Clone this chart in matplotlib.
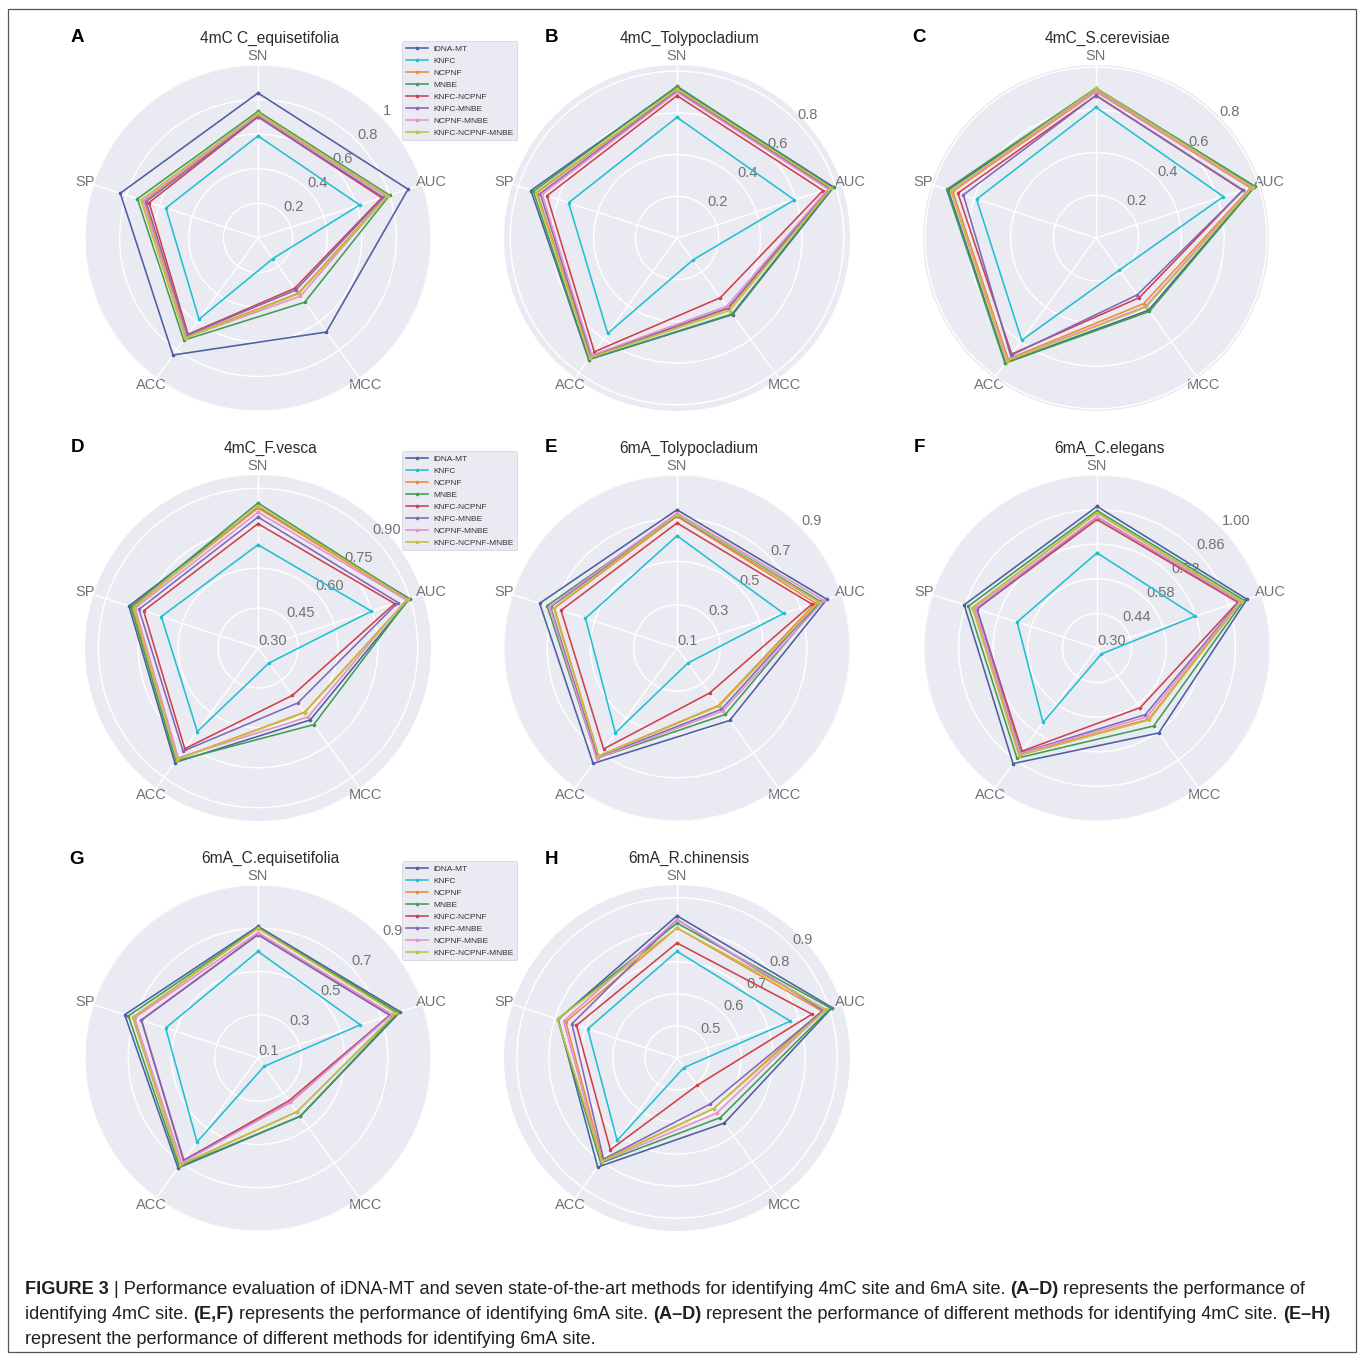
import numpy as np
import matplotlib
matplotlib.use("Agg")
import matplotlib.pyplot as plt
from matplotlib.patches import Rectangle

plt.rcParams['font.family'] = ['Liberation Sans', 'DejaVu Sans']

metrics = ["SN", "AUC", "MCC", "ACC", "SP"]
methods = ["iDNA-MT", "KNFC", "NCPNF", "MNBE", "KNFC-NCPNF",
           "KNFC-MNBE", "NCPNF-MNBE", "KNFC-NCPNF-MNBE"]
colors = ["#4C5F9F", "#22C0CF", "#F08A3A", "#3E9E55", "#D0404A",
          "#8068B8", "#E590CC", "#C4C040"]

# values per panel: rows = methods, columns = SN, AUC, MCC, ACC, SP
vals_A = [[0.838, 0.912, 0.672, 0.836, 0.837],
          [0.590, 0.618, 0.147, 0.580, 0.560],
          [0.712, 0.780, 0.395, 0.705, 0.690],
          [0.732, 0.800, 0.459, 0.730, 0.733],
          [0.700, 0.752, 0.360, 0.688, 0.662],
          [0.702, 0.762, 0.372, 0.693, 0.680],
          [0.716, 0.782, 0.416, 0.712, 0.700],
          [0.722, 0.790, 0.400, 0.715, 0.712]]
vals_B = [[0.725, 0.790, 0.454, 0.721, 0.737],
          [0.579, 0.592, 0.130, 0.566, 0.547],
          [0.712, 0.775, 0.420, 0.705, 0.705],
          [0.728, 0.785, 0.450, 0.720, 0.725],
          [0.683, 0.737, 0.354, 0.675, 0.656],
          [0.705, 0.768, 0.415, 0.700, 0.690],
          [0.700, 0.762, 0.405, 0.695, 0.680],
          [0.715, 0.778, 0.430, 0.710, 0.712]]
vals_C = [[0.695, 0.780, 0.418, 0.722, 0.728],
          [0.612, 0.627, 0.186, 0.592, 0.588],
          [0.685, 0.760, 0.380, 0.700, 0.705],
          [0.702, 0.783, 0.425, 0.725, 0.735],
          [0.667, 0.722, 0.345, 0.672, 0.680],
          [0.668, 0.725, 0.329, 0.680, 0.653],
          [0.690, 0.765, 0.395, 0.708, 0.712],
          [0.700, 0.772, 0.400, 0.712, 0.715]]
vals_D = [[0.830, 0.899, 0.634, 0.832, 0.810],
          [0.688, 0.748, 0.370, 0.688, 0.682],
          [0.826, 0.890, 0.598, 0.815, 0.796],
          [0.845, 0.895, 0.656, 0.825, 0.802],
          [0.767, 0.840, 0.520, 0.768, 0.752],
          [0.792, 0.853, 0.555, 0.779, 0.770],
          [0.810, 0.885, 0.620, 0.810, 0.785],
          [0.835, 0.892, 0.600, 0.818, 0.790]]
vals_E = [[0.739, 0.829, 0.514, 0.760, 0.768],
          [0.619, 0.618, 0.186, 0.585, 0.545],
          [0.709, 0.773, 0.428, 0.716, 0.696],
          [0.716, 0.797, 0.480, 0.730, 0.732],
          [0.678, 0.756, 0.357, 0.677, 0.664],
          [0.712, 0.790, 0.450, 0.725, 0.715],
          [0.724, 0.813, 0.460, 0.732, 0.720],
          [0.716, 0.790, 0.432, 0.718, 0.700]]
vals_F = [[0.873, 0.938, 0.725, 0.878, 0.865],
          [0.685, 0.718, 0.330, 0.672, 0.640],
          [0.847, 0.912, 0.656, 0.833, 0.828],
          [0.856, 0.925, 0.690, 0.851, 0.847],
          [0.820, 0.899, 0.598, 0.816, 0.811],
          [0.830, 0.905, 0.633, 0.825, 0.811],
          [0.832, 0.908, 0.644, 0.828, 0.820],
          [0.847, 0.915, 0.660, 0.838, 0.830]]
vals_G = [[0.709, 0.792, 0.433, 0.729, 0.748],
          [0.593, 0.597, 0.148, 0.580, 0.549],
          [0.700, 0.775, 0.407, 0.712, 0.707],
          [0.702, 0.782, 0.433, 0.720, 0.730],
          [0.672, 0.742, 0.344, 0.684, 0.667],
          [0.670, 0.740, 0.354, 0.686, 0.667],
          [0.680, 0.752, 0.354, 0.700, 0.700],
          [0.700, 0.770, 0.407, 0.710, 0.710]]
vals_H = [[0.844, 0.909, 0.651, 0.821, 0.790],
          [0.733, 0.772, 0.437, 0.718, 0.693],
          [0.806, 0.875, 0.595, 0.795, 0.765],
          [0.821, 0.904, 0.630, 0.805, 0.792],
          [0.759, 0.843, 0.506, 0.754, 0.730],
          [0.832, 0.880, 0.577, 0.790, 0.745],
          [0.832, 0.885, 0.612, 0.800, 0.772],
          [0.806, 0.890, 0.595, 0.798, 0.792]]

titles = ["4mC C_equisetifolia", "4mC_Tolypocladium", "4mC_S.cerevisiae",
          "4mC_F.vesca", "6mA_Tolypocladium", "6mA_C.elegans",
          "6mA_C.equisetifolia", "6mA_R.chinensis"]
letters = ["A", "B", "C", "D", "E", "F", "G", "H"]

rticks_A = [0.2, 0.4, 0.6, 0.8, 1.0]
rlabels_A = ["0.2", "0.4", "0.6", "0.8", "1"]
rticks_BC = [0.2, 0.4, 0.6, 0.8]
rlabels_BC = ["0.2", "0.4", "0.6", "0.8"]
rticks_D = [0.30, 0.45, 0.60, 0.75, 0.90]
rlabels_D = ["0.30", "0.45", "0.60", "0.75", "0.90"]
rticks_EG = [0.1, 0.3, 0.5, 0.7, 0.9]
rlabels_EG = ["0.1", "0.3", "0.5", "0.7", "0.9"]
rticks_F = [0.30, 0.44, 0.58, 0.72, 0.86, 1.00]
rlabels_F = ["0.30", "0.44", "0.58", "0.72", "0.86", "1.00"]
rticks_H = [0.5, 0.6, 0.7, 0.8, 0.9]
rlabels_H = ["0.5", "0.6", "0.7", "0.8", "0.9"]

panels = [
    (vals_A, rticks_A, rlabels_A, (0.0, 1.0)),
    (vals_B, rticks_BC, rlabels_BC, (0.0, 0.83)),
    (vals_C, rticks_BC, rlabels_BC, (0.0, 0.81)),
    (vals_D, rticks_D, rlabels_D, (0.30, 0.95)),
    (vals_E, rticks_EG, rlabels_EG, (0.1, 0.9)),
    (vals_F, rticks_F, rlabels_F, (0.30, 1.0)),
    (vals_G, rticks_EG, rlabels_EG, (0.1, 0.9)),
    (vals_H, rticks_H, rlabels_H, (0.40, 0.94)),
]

W, H = 1360, 1355
fig = plt.figure(figsize=(W / 100, H / 100), dpi=100)
fig.patch.set_facecolor("white")

centers = [(258, 238), (677, 238), (1096, 238),
           (258, 648), (677, 648), (1097, 648),
           (258, 1058), (677, 1058)]
letter_pos = [(77, 37), (551, 37), (919, 37),
              (77, 448), (551, 448), (919, 448),
              (77, 859), (551, 859)]
R = 173

angles = np.deg2rad(np.arange(0, 360, 72))
angles_closed = np.concatenate([angles, angles[:1]])

label_gray = "#727272"
for i, (vals, rt, rl, lim) in enumerate(panels):
    cx, cy = centers[i]
    ax = fig.add_axes([(cx - R) / W, 1 - (cy + R) / H, 2 * R / W, 2 * R / H],
                      projection="polar")
    ax.set_facecolor("#EAEAF2")
    ax.set_theta_offset(np.pi / 2)
    ax.set_theta_direction(-1)
    for j, row in enumerate(vals):
        v = np.asarray(row, dtype=float)
        v = np.concatenate([v, v[:1]])
        ax.plot(angles_closed, v, color=colors[j], lw=1.15, marker=".",
                markersize=3.2, label=methods[j])
    ax.set_ylim(*lim)
    ax.set_rgrids(rt, labels=rl, angle=46, color=label_gray, fontsize=10.5)
    ax.set_thetagrids(np.degrees(angles), metrics, color=label_gray, fontsize=10.5)
    ax.tick_params(axis="x", pad=-4)
    ax.grid(True, color="white", lw=1.0)
    ax.spines["polar"].set_visible(False)
    ax.set_axisbelow(True)
    fig.text((cx + 12) / W, 1 - 38 / H - (cy - 238) / H, titles[i],
             ha="center", va="center", fontsize=11.2, color="#2b2b2b")
    lx, ly = letter_pos[i]
    fig.text(lx / W, 1 - ly / H, letters[i], ha="center", va="center",
             fontsize=13.5, fontweight="bold", color="black")
    if i in (0, 3, 6):
        handles, labs = ax.get_legend_handles_labels()
        lg = fig.legend(handles, labs, loc="upper left",
                        bbox_to_anchor=(402 / W, 1 - (41 + (cy - 238)) / H),
                        bbox_transform=fig.transFigure, fontsize=6.0,
                        frameon=True, facecolor="#EAEAF2", edgecolor="#d6d6dc",
                        framealpha=1.0, fancybox=True, handlelength=2.7,
                        handletextpad=0.6, labelspacing=0.5, borderpad=0.45,
                        borderaxespad=0.0, labelcolor="#333333")
        lg.get_frame().set_linewidth(0.6)

# border frame
fig.patches.append(Rectangle((8 / W, 1 - 1352 / H), (1356 - 8) / W, (1352 - 9) / H,
                             transform=fig.transFigure, fill=False,
                             edgecolor="#555555", lw=0.9))

# caption with mixed bold / regular segments
caption_lines = [
    [("FIGURE 3", True), (" | Performance evaluation of iDNA-MT and seven state-of-the-art methods for identifying 4mC site and 6mA site. ", False),
     ("(A–D)", True), (" represents the performance of", False)],
    [("identifying 4mC site. ", False), ("(E,F)", True),
     (" represents the performance of identifying 6mA site. ", False), ("(A–D)", True),
     (" represent the performance of different methods for identifying 4mC site. ", False),
     ("(E–H)", True)],
    [("represent the performance of different methods for identifying 6mA site.", False)],
]
renderer = fig.canvas.get_renderer()


def seg_width(s, bold, size):
    t = fig.text(0, 0, s.replace(" ", "\u00a0"), fontsize=size,
                 fontweight="bold" if bold else "normal")
    w = t.get_window_extent(renderer=renderer).width
    t.remove()
    return w


base = 12.0
w1 = sum(seg_width(s, b, base) for s, b in caption_lines[0])
size = base * 1285.0 / w1
baselines = [1294, 1319, 1344]
for line, yb in zip(caption_lines, baselines):
    x = 25.0
    for s, b in line:
        txt = s.replace(" ", "\u00a0")
        fig.text(x / W, 1 - yb / H, txt, fontsize=size,
                 fontweight="bold" if b else "normal", color="#231f20",
                 ha="left", va="baseline")
        x += seg_width(s, b, size)

fig.savefig("out.png", dpi=100, facecolor="white")
